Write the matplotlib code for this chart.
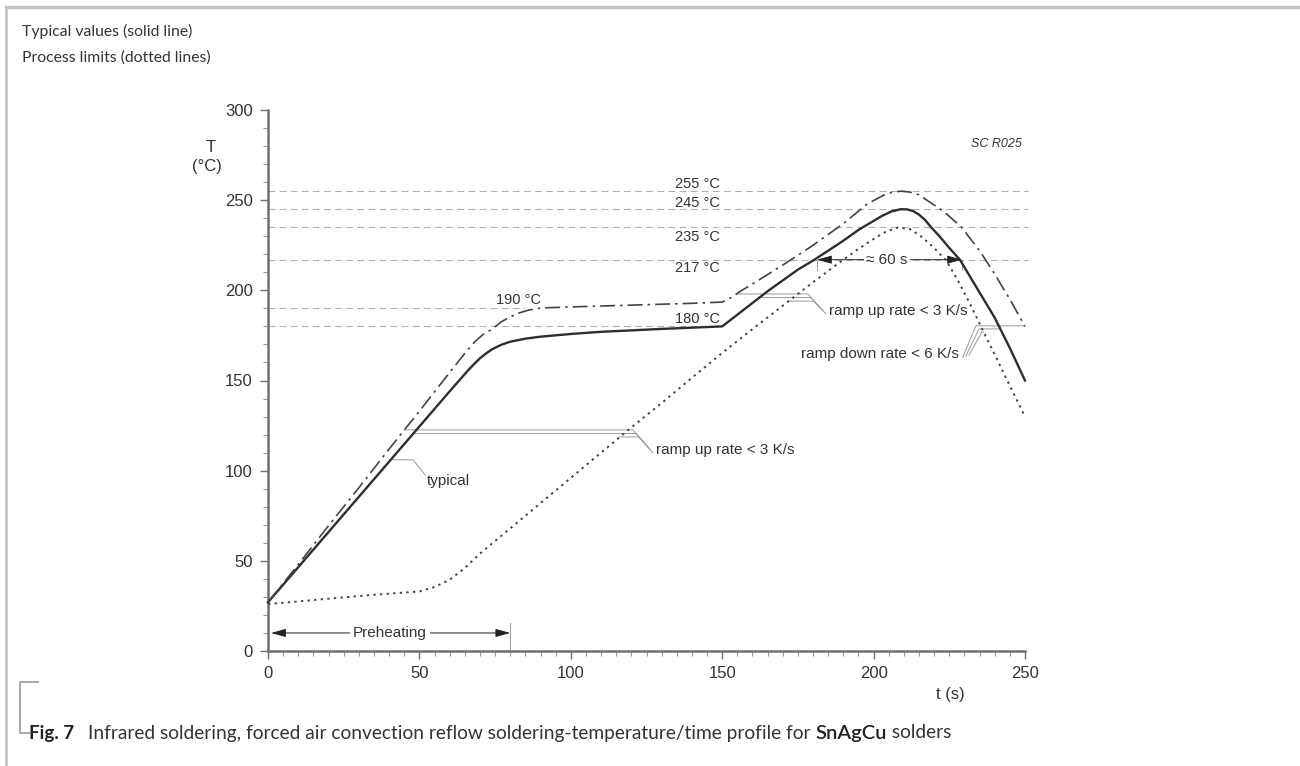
import numpy as np
import matplotlib
matplotlib.use('Agg')
import matplotlib.pyplot as plt

# ---------------- data ----------------
t_typ = [0, 10, 20, 30, 40, 50, 60, 66, 68, 70, 72, 74, 77, 80, 85, 90, 100, 110, 120, 130, 140,
         150, 155, 160, 165, 170, 175, 180, 185, 190, 195, 200, 203, 206, 209, 211, 213, 215,
         217, 219, 222, 225, 228.5, 235, 240, 245, 250]
T_typ = [27, 46.5, 66, 85.5, 105, 124.5, 144, 155.5, 159, 162.3, 165, 167.3, 169.8, 171.5, 173.2,
         174.3, 175.8, 177, 177.8, 178.6, 179.3, 180, 186.5, 193, 199.5, 205.5, 211.5, 216.5, 222,
         227.5, 233.5, 238.5, 241.5, 243.8, 245, 244.9, 244, 242, 239, 235, 229.5, 223.5, 217,
         198.8, 184.8, 168, 150]

t_hi = [0, 10, 20, 30, 40, 50, 60, 65, 68, 71, 74, 77, 80, 83, 86, 90, 100, 110, 120, 130, 140,
        150, 153, 156, 160, 170, 180, 190, 198, 203, 206, 209, 212, 215, 218, 223, 229, 235,
        240, 245, 250]
T_hi = [27, 48, 69.5, 90.5, 112, 133, 154.5, 165, 171, 175.5, 178.5, 182.5, 185.3, 187.5, 189,
        190.2, 190.8, 191.3, 191.8, 192.3, 192.8, 193.5, 196, 199.5, 203.5, 214, 225, 237, 248,
        252.5, 254.3, 255, 254.5, 253, 249.5, 244, 235, 222, 209, 195, 180]

t_lo = [0, 10, 20, 30, 40, 50, 55, 60, 65, 70, 80, 90, 100, 110, 120, 130, 140, 150, 160, 170,
        180, 190, 195, 200, 204, 208, 212, 216, 220, 224, 228, 232, 236, 241, 245, 250]
T_lo = [26, 27.5, 29, 30.5, 31.8, 33, 35.5, 39.5, 46, 54, 68, 82, 96, 110, 124, 137.5, 151.5,
        165.3, 178.5, 191.5, 204.5, 217, 223, 228.5, 232.5, 234.8, 234, 229.5, 223.5, 216.5,
        205, 192, 178, 161, 147, 130]

x_ticks = [0, 50, 100, 150, 200, 250]
y_ticks = [0, 50, 100, 150, 200, 250, 300]

ref_levels = [255, 245, 235, 217]
ref_labels = ['255 °C', '245 °C', '235 °C', '217 °C']
ref_label_T = [259, 248.2, 229.8, 212.4]
soak_levels = [190, 180]
soak_labels = ['190 °C', '180 °C']

preheat_end = 80
tal_start, tal_end = 181.3, 229.2

# ---------------- styling ----------------
TXT = '#333333'
GRAY = '#999999'
AX = '#6e6e6e'
SANS = ['Liberation Sans', 'DejaVu Sans']
HUM = ['Lato', 'DejaVu Sans']

W, H = 1300, 766
fig = plt.figure(figsize=(W / 100, H / 100), dpi=100)
fig.patch.set_facecolor('white')


def fx(px):
    return px / W


def fy(py):
    return 1 - py / H


ax = fig.add_axes([fx(268), fy(651), (1025 - 268) / W, (651 - 110) / H])
ax.set_xlim(0, 250)
ax.set_ylim(0, 300)
ax.set_facecolor('none')
for s in ['top', 'right']:
    ax.spines[s].set_visible(False)
for s in ['left', 'bottom']:
    ax.spines[s].set_color(AX)
    ax.spines[s].set_linewidth(1.8)

ax.set_xticks(x_ticks)
ax.set_yticks(y_ticks)
ax.set_xticks(np.arange(0, 251, 5), minor=True)
ax.set_yticks(np.arange(0, 301, 10), minor=True)
ax.tick_params(which='major', length=6, width=1, color=AX, labelsize=12, labelcolor=TXT, pad=5)
ax.tick_params(which='minor', length=3.5, width=0.8, color='#9a9a9a')
for lab in ax.get_xticklabels() + ax.get_yticklabels():
    lab.set_family(SANS)

# reference dashed lines
dash = (0, (6, 4))
for lv in ref_levels:
    ax.plot([0, 251], [lv, lv], color='#b0b0b0', lw=0.8, ls=dash, clip_on=False, zorder=1)
ax.plot([0, 85], [soak_levels[0]] * 2, color='#b0b0b0', lw=0.8, ls=dash, zorder=1)
ax.plot([0, 150], [soak_levels[1]] * 2, color='#b0b0b0', lw=0.8, ls=dash, zorder=1)

for lab, tv in zip(ref_labels, ref_label_T):
    ax.text(141.8, tv, lab, ha='center', va='center', fontsize=10.5, color=TXT, family=SANS)
ax.text(82.8, 194.7, soak_labels[0], ha='center', va='center', fontsize=10.5, color=TXT, family=SANS)
ax.text(141.8, 184, soak_labels[1], ha='center', va='center', fontsize=10.5, color=TXT, family=SANS)

# curves
ax.plot(t_typ, T_typ, color='#2e2e2e', lw=1.7, clip_on=False, zorder=4, solid_joinstyle='round')
ax.plot(t_hi, T_hi, color='#444444', lw=1.2, ls=(0, (9, 3, 1.5, 3)), clip_on=False, zorder=4)
ax.plot(t_lo, T_lo, color='#444444', lw=1.4, ls=(0, (1.2, 2.2)), clip_on=False, zorder=4)


def cross(t, T, level, start=0.0, rising=True):
    t = np.asarray(t, float)
    T = np.asarray(T, float)
    for i in range(len(t) - 1):
        if t[i] < start:
            continue
        a, b = T[i], T[i + 1]
        if (rising and a <= level <= b) or ((not rising) and a >= level >= b):
            if b == a:
                return t[i]
            return t[i] + (level - a) / (b - a) * (t[i + 1] - t[i])
    return t[-1]


lead = dict(color=GRAY, lw=0.7, clip_on=False, zorder=3)

# lower ramp-up bundle
curves = [(t_hi, T_hi), (t_typ, T_typ), (t_lo, T_lo)]
lv_low = [122.6, 120.6, 118.7]
hx_low = [120.5, 121.5, 122.5]
dx_low = [125.2, 126.2, 127.1]
dy_low = [113.7, 111.8, 109.8]
for (tc, Tc), lv, hx, dx, dy in zip(curves, lv_low, hx_low, dx_low, dy_low):
    t0 = cross(tc, Tc, lv)
    ax.plot([t0, hx, dx], [lv, lv, dy], **lead)
ax.text(128, 111.5, 'ramp up rate < 3 K/s', ha='left', va='center', fontsize=11, color=TXT, family=SANS)

# upper ramp-up bundle
lv_up = [198, 196, 194]
hx_up = [178.3, 179.3, 180.3]
dx_up = [182.3, 183.3, 184.3]
dy_up = [190.2, 188.6, 186.9]
for (tc, Tc), lv, hx, dx, dy in zip(curves, lv_up, hx_up, dx_up, dy_up):
    t0 = cross(tc, Tc, lv, start=140)
    ax.plot([t0, hx, dx], [lv, lv, dy], **lead)
ax.text(185.3, 188.3, 'ramp up rate < 3 K/s', ha='left', va='center', fontsize=11, color=TXT, family=SANS)

# ramp-down bundle
lv_dn = [180.3, 178.6, 176.9]
hx_dn = [233.8, 234.8, 235.8]
dx_dn = [229.5, 230.5, 231.5]
dy_dn = [163.0, 163.6, 164.1]
for (tc, Tc), lv, hx, dx, dy in zip(curves, lv_dn, hx_dn, dx_dn, dy_dn):
    t1 = cross(tc, Tc, lv, start=205, rising=False)
    ax.plot([dx, hx, max(t1, hx)], [dy, lv, lv], **lead)
ax.text(228.3, 164.5, 'ramp down rate < 6 K/s', ha='right', va='center', fontsize=11, color=TXT, family=SANS)

# "typical" leader
tt = cross(t_typ, T_typ, 106)
ax.plot([tt, 47.9, 52.0], [106, 106, 97.5], **lead)
ax.text(52.6, 94.5, 'typical', ha='left', va='center', fontsize=11, color=TXT, family=SANS)

# time above liquidus dimension
arr = dict(arrowstyle='<|-|>,head_length=0.9,head_width=0.25', color='#222222', lw=0.7,
           shrinkA=0, shrinkB=0, mutation_scale=10)
ax.annotate('', xy=(tal_start, 217), xytext=(tal_end, 217), arrowprops=arr, zorder=5)
ax.plot([tal_start, tal_start], [217, 211.3], color=GRAY, lw=0.7, zorder=3)
ax.plot([tal_end, tal_end], [217, 211.3], color=GRAY, lw=0.7, zorder=3)
ax.text(204.4, 217, '≈ 60 s', ha='center', va='center', fontsize=11, color=TXT, family=SANS,
        bbox=dict(facecolor='white', edgecolor='none', pad=1.5), zorder=6)

# preheating dimension
ax.annotate('', xy=(1.0, 10), xytext=(preheat_end, 10), arrowprops=arr, zorder=5)
ax.plot([preheat_end, preheat_end], [0, 15.5], color=GRAY, lw=0.7, zorder=3)
ax.text(40.3, 10, 'Preheating', ha='center', va='center', fontsize=11, color=TXT, family=SANS,
        bbox=dict(facecolor='white', edgecolor='none', pad=2), zorder=6)

# code label
ax.text(249, 281, 'SC R025', ha='right', va='center', fontsize=9, color=TXT, family=SANS, style='italic')

# axis titles
fig.text(fx(211), fy(148), 'T', ha='center', va='center', fontsize=12, color=TXT, family=SANS)
fig.text(fx(207), fy(167), '(°C)', ha='center', va='center', fontsize=12, color=TXT, family=SANS)
fig.text(fx(950), fy(694), 't (s)', ha='center', va='center', fontsize=12, color=TXT, family=SANS)

# header texts
fig.text(fx(22), fy(31), 'Typical values (solid line)', ha='left', va='center', fontsize=11.3,
         color=TXT, family=HUM)
fig.text(fx(22), fy(58), 'Process limits (dotted lines)', ha='left', va='center', fontsize=11.3,
         color=TXT, family=HUM)

# frame lines
fig.add_artist(plt.Line2D([fx(6), fx(1300)], [fy(7), fy(7)], color='#c4c4c4', lw=2.5))
fig.add_artist(plt.Line2D([fx(6), fx(6)], [fy(7), fy(766)], color='#c4c4c4', lw=2.0))
# caption bracket
fig.add_artist(plt.Line2D([fx(38), fx(20), fx(20), fx(29)], [fy(682), fy(682), fy(733), fy(733)],
                          color='#a0a0a0', lw=1.3))

# caption
fig.canvas.draw()
r = fig.canvas.get_renderer()
cy = fy(733)
t1 = fig.text(fx(29), cy, 'Fig. 7', ha='left', va='center', fontsize=13.5, color='#222222',
              family=HUM, weight='bold')
bb = t1.get_window_extent(r)
t2 = fig.text((bb.x1 + 14) / W, cy,
              'Infrared soldering, forced air convection reflow soldering-temperature/time profile for ',
              ha='left', va='center', fontsize=13.8, color=TXT, family=HUM)
bb = t2.get_window_extent(r)
t3 = fig.text(bb.x1 / W, cy, 'SnAgCu', ha='left', va='center', fontsize=14.5, color='#222222',
              family=HUM, weight='semibold')
bb = t3.get_window_extent(r)
fig.text(bb.x1 / W, cy, ' solders', ha='left', va='center', fontsize=13.8, color=TXT, family=HUM)

fig.savefig('out.png', dpi=100, facecolor='white')
